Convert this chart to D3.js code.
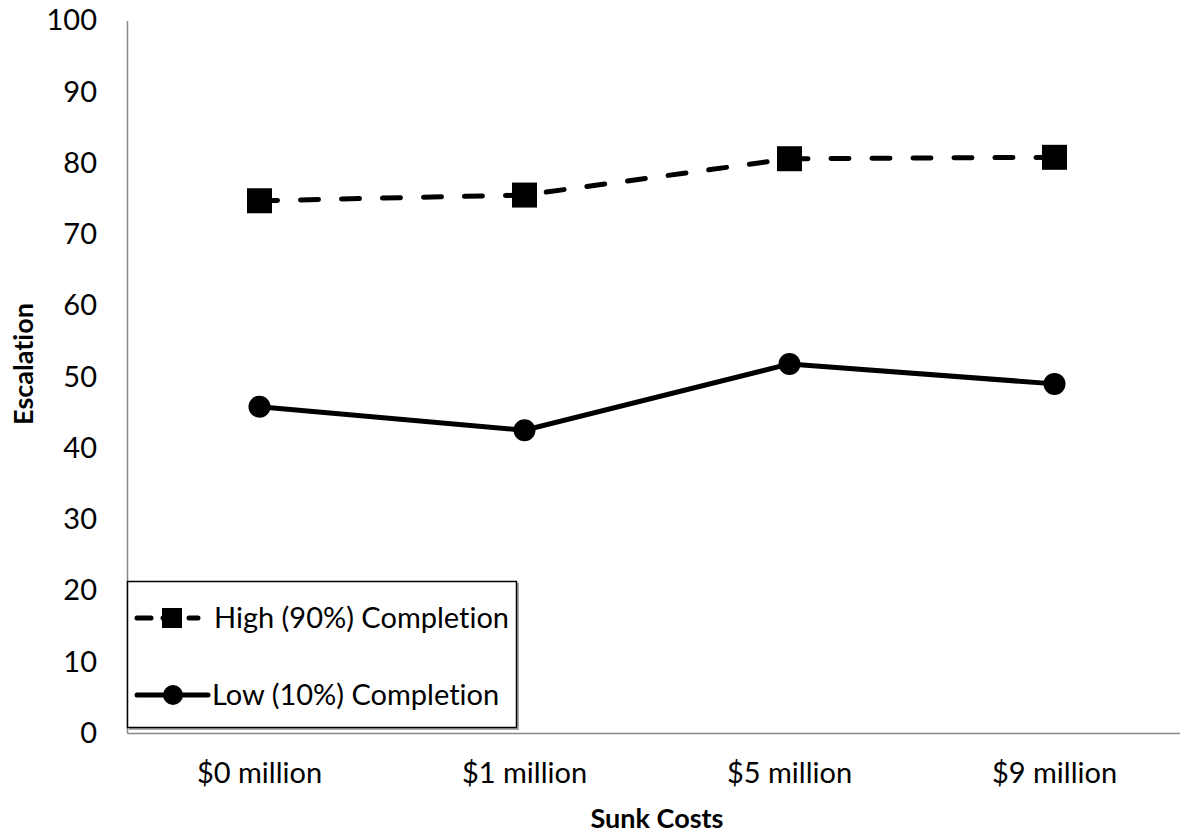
<!DOCTYPE html>
<html><head><meta charset="utf-8">
<script src="https://cdn.jsdelivr.net/npm/d3@7"></script>
<style>body{margin:0;background:#fff}svg{display:block}text{font-family:Lato,"Open Sans",sans-serif;fill:#000;font-variant-ligatures:none;font-feature-settings:"liga" 0,"dlig" 0}</style>
</head><body><svg id="c" width="1180" height="837"></svg>
<script>
const categories = ["$0 million","$1 million","$5 million","$9 million"];
const highValues = [74.7, 75.5, 80.6, 80.8];
const lowValues = [45.8, 42.5, 51.8, 49.0];
const yTicks = [0,10,20,30,40,50,60,70,80,90,100];
const seriesNames = ["High (90%) Completion","Low (10%) Completion"];

const svg = d3.select("#c");
const x = d3.scaleBand().domain(categories).range([127,1187]);
const y = d3.scaleLinear().domain([0,100]).range([733,20.5]);
const cx = d => x(d) + x.bandwidth()/2;

// axes
const yAx = svg.append("g").attr("transform","translate(127,0)")
  .call(d3.axisLeft(y).tickValues(yTicks).tickSize(0).tickPadding(30));
yAx.select(".domain").attr("stroke","#898989").attr("stroke-width",1.5);
yAx.selectAll("text").style("font-size","29px").style("font-family","Lato");

const xAx = svg.append("g").attr("transform","translate(0,733)")
  .call(d3.axisBottom(x).tickSize(0).tickPadding(29));
xAx.select(".domain").attr("stroke","#898989").attr("stroke-width",1.5);
xAx.selectAll("text").style("font-size","29px").style("font-family","Lato");

svg.append("text").attr("transform","translate(33,364) rotate(-90)")
  .attr("text-anchor","middle").style("font-size","27px").style("font-weight","bold").text("Escalation");
svg.append("text").attr("x",657).attr("y",828)
  .attr("text-anchor","middle").style("font-size","27px").style("font-weight","bold").text("Sunk Costs");

const line = d3.line().x((d,i)=>cx(categories[i])).y(d=>y(d));

svg.append("path").datum(highValues).attr("d",line).attr("fill","none")
  .attr("stroke","#000").attr("stroke-width",5).attr("stroke-dasharray","18,23").attr("stroke-linecap","round");
svg.append("path").datum(lowValues).attr("d",line).attr("fill","none")
  .attr("stroke","#000").attr("stroke-width",5);

svg.selectAll(".sq").data(highValues).join("rect")
  .attr("x",(d,i)=>cx(categories[i])-12.5).attr("y",d=>y(d)-12.5)
  .attr("width",25).attr("height",25).attr("fill","#000");
svg.selectAll(".ci").data(lowValues).join("circle")
  .attr("cx",(d,i)=>cx(categories[i])).attr("cy",d=>y(d)).attr("r",11).attr("fill","#000");

// legend
const lg = svg.append("g");
lg.append("rect").attr("x",129).attr("y",583).attr("width",390).attr("height",147).attr("fill","#aaa");
lg.append("rect").attr("x",127.5).attr("y",581.5).attr("width",389).attr("height",146)
  .attr("fill","#fff").attr("stroke","#000").attr("stroke-width",1.5);
lg.append("line").attr("x1",137).attr("x2",198).attr("y1",618).attr("y2",618)
  .attr("stroke","#000").attr("stroke-width",5).attr("stroke-linecap","round").attr("stroke-dasharray","14,12");
lg.append("rect").attr("x",162).attr("y",608).attr("width",20).attr("height",20).attr("fill","#000");
lg.append("text").attr("x",214).attr("y",618).attr("dy","0.35em").style("font-size","29px").text(seriesNames[0]);
lg.append("line").attr("x1",137).attr("x2",208).attr("y1",695).attr("y2",695)
  .attr("stroke","#000").attr("stroke-width",5).attr("stroke-linecap","round");
lg.append("circle").attr("cx",173).attr("cy",695).attr("r",10).attr("fill","#000");
lg.append("text").attr("x",212).attr("y",695).attr("dy","0.35em").style("font-size","29px").text(seriesNames[1]);
</script></body></html>
